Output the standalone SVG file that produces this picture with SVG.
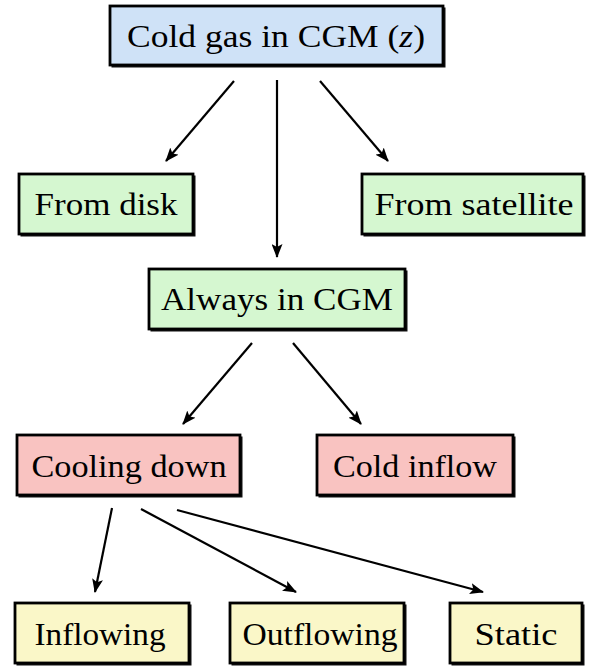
<svg xmlns="http://www.w3.org/2000/svg" width="594" height="666" viewBox="0 0 594 666">
<defs>
<style>
.box{stroke:#000;stroke-width:2.8}
.sh{fill:#111}
.blue{fill:#cfe2f7}
.green{fill:#d5f7d0}
.red{fill:#f9c3c1}
.yellow{fill:#faf7c8}
.edge{stroke:#000;stroke-width:2.2;fill:none;marker-end:url(#ah)}
.t{font-family:'Liberation Serif','Times New Roman',Tinos,'DejaVu Serif','Noto Serif',serif;font-size:32px;text-anchor:middle;fill:#000}
</style>
<marker id="ah" viewBox="0 0 14 11" refX="13" refY="5.5" markerWidth="14" markerHeight="11" markerUnits="userSpaceOnUse" orient="auto">
<path d="M0,0 L14,5.5 L0,11 L3,5.5 Z" fill="#000"/>
</marker>
</defs>
<g id="connectors">
<line class="edge" x1="234" y1="81" x2="166" y2="161"/>
<line class="edge" x1="277" y1="80" x2="277" y2="257"/>
<line class="edge" x1="320" y1="81" x2="388" y2="161"/>
<line class="edge" x1="252" y1="343" x2="183" y2="424"/>
<line class="edge" x1="293" y1="343" x2="361" y2="424"/>
<line class="edge" x1="112" y1="508" x2="95" y2="592"/>
<line class="edge" x1="141" y1="509" x2="296" y2="592"/>
<line class="edge" x1="177" y1="510" x2="483" y2="592"/>
</g>
<g id="cold_gas">
<rect class="sh" x="111.5" y="7.5" width="334" height="60"/>
<rect class="box blue" x="110" y="6" width="333" height="59"/>
<text class="t" x="276" y="47" textLength="298" lengthAdjust="spacingAndGlyphs">Cold gas in CGM (<tspan font-style="italic">z</tspan>)</text>
</g>
<g id="from_disk">
<rect class="sh" x="20.5" y="175.5" width="175" height="61"/>
<rect class="box green" x="19" y="174" width="174" height="60"/>
<text class="t" x="106" y="215" textLength="143" lengthAdjust="spacingAndGlyphs">From disk</text>
</g>
<g id="from_satellite">
<rect class="sh" x="363.5" y="175.5" width="222" height="61"/>
<rect class="box green" x="362" y="174" width="221" height="60"/>
<text class="t" x="474" y="215" textLength="199" lengthAdjust="spacingAndGlyphs">From satellite</text>
</g>
<g id="always_in_cgm">
<rect class="sh" x="150.5" y="270.5" width="257" height="61"/>
<rect class="box green" x="149" y="269" width="256" height="60"/>
<text class="t" x="277" y="310" textLength="232" lengthAdjust="spacingAndGlyphs">Always in CGM</text>
</g>
<g id="cooling_down">
<rect class="sh" x="18.5" y="436.5" width="224" height="61"/>
<rect class="box red" x="17" y="435" width="223" height="60"/>
<text class="t" x="129" y="477" textLength="195" lengthAdjust="spacingAndGlyphs">Cooling down</text>
</g>
<g id="cold_inflow">
<rect class="sh" x="318.5" y="436.5" width="197" height="61"/>
<rect class="box red" x="317" y="435" width="196" height="60"/>
<text class="t" x="415" y="477" textLength="164" lengthAdjust="spacingAndGlyphs">Cold inflow</text>
</g>
<g id="inflowing">
<rect class="sh" x="16.5" y="604.5" width="175" height="61"/>
<rect class="box yellow" x="15" y="603" width="174" height="60"/>
<text class="t" x="100" y="645" textLength="131" lengthAdjust="spacingAndGlyphs">Inflowing</text>
</g>
<g id="outflowing">
<rect class="sh" x="231.5" y="604.5" width="175" height="61"/>
<rect class="box yellow" x="230" y="603" width="174" height="60"/>
<text class="t" x="320" y="645" textLength="155" lengthAdjust="spacingAndGlyphs">Outflowing</text>
</g>
<g id="static">
<rect class="sh" x="451.5" y="604.5" width="133" height="61"/>
<rect class="box yellow" x="450" y="603" width="132" height="60"/>
<text class="t" x="516" y="645" textLength="83" lengthAdjust="spacingAndGlyphs">Static</text>
</g>
</svg>
